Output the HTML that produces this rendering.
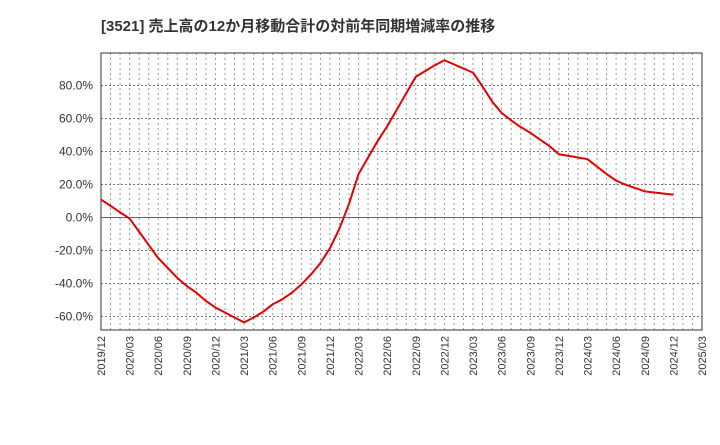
<!DOCTYPE html>
<html><head><meta charset="utf-8"><style>
body{margin:0;background:#fff;font-family:"Liberation Sans","Noto Sans CJK JP",sans-serif;}
</style></head><body>
<svg width="720" height="440" id="c" xmlns="http://www.w3.org/2000/svg">
<text x="101" y="31" font-size="15" font-weight="bold" fill="#333" font-family="Liberation Sans, Noto Sans CJK JP, sans-serif">[3521]  売上高の12か月移動合計の対前年同期増減率の推移</text>
</svg>
<script>
const xLabels=["2019/12","2020/03","2020/06","2020/09","2020/12","2021/03","2021/06","2021/09","2021/12","2022/03","2022/06","2022/09","2022/12","2023/03","2023/06","2023/09","2023/12","2024/03","2024/06","2024/09","2024/12","2025/03"];
const yTicks=[-60,-40,-20,0,20,40,60,80];
// monthly values from 2019/12
const values=[10.5,6.7,2.8,-1,-9,-17,-25,-31,-37,-42,-46,-51,-55,-58,-61,-64,-61,-57.5,-53,-50,-46,-41,-35,-28,-19,-7,8,26,36,46,55,65,75,85,88.5,92,95,92.5,90,87.5,79,70,63,58.5,54.5,51,47,43,38,37,36,35,30.5,26,22,19.5,17.5,15.5,14.8,14.1,13.5];
const L=101,R=702,T=53,B=330,yMax=99.4,yMin=-68.6;
const nMonths=(xLabels.length-1)*3;
const X=i=>L+(R-L)*i/nMonths;
const Y=v=>T+(yMax-v)/(yMax-yMin)*(B-T);
const s=document.getElementById('c');const NS='http://www.w3.org/2000/svg';
function mk(t,a){const e=document.createElementNS(NS,t);for(const k in a)e.setAttribute(k,a[k]);s.appendChild(e);return e;}
for(let i=1;i<nMonths;i++){const e=mk('line',{x1:X(i),x2:X(i),y1:T,y2:B,stroke:'#999','stroke-width':1,'stroke-dasharray':'2,3'});

}
yTicks.forEach(v=>{const y=Math.round(Y(v))+0.5;
const g=mk('line',{x1:L,x2:R,y1:y,y2:y,stroke:v===0?'#666':'#777','stroke-width':1,'stroke-dasharray':v===0?'':'2,2'});


const t=mk('text',{x:L-8,y:y+4,'text-anchor':'end','font-size':12,fill:'#333'});t.textContent=v.toFixed(1)+'%';

});
xLabels.forEach((lb,i)=>{const x=X(i*3);const t=mk('text',{x:0,y:0,'text-anchor':'end','font-size':11,fill:'#333',transform:`translate(${x+4},${B+6}) rotate(-90)`});t.textContent=lb;

});
const fr=mk('rect',{x:L,y:T,width:R-L,height:B-T,fill:'none',stroke:'#333','stroke-width':1});


const p=mk('polyline',{points:values.map((v,i)=>X(i)+','+Y(v)).join(' '),fill:'none',stroke:'#e60000','stroke-width':2,'stroke-linejoin':'round'});


</script>
</body></html>
